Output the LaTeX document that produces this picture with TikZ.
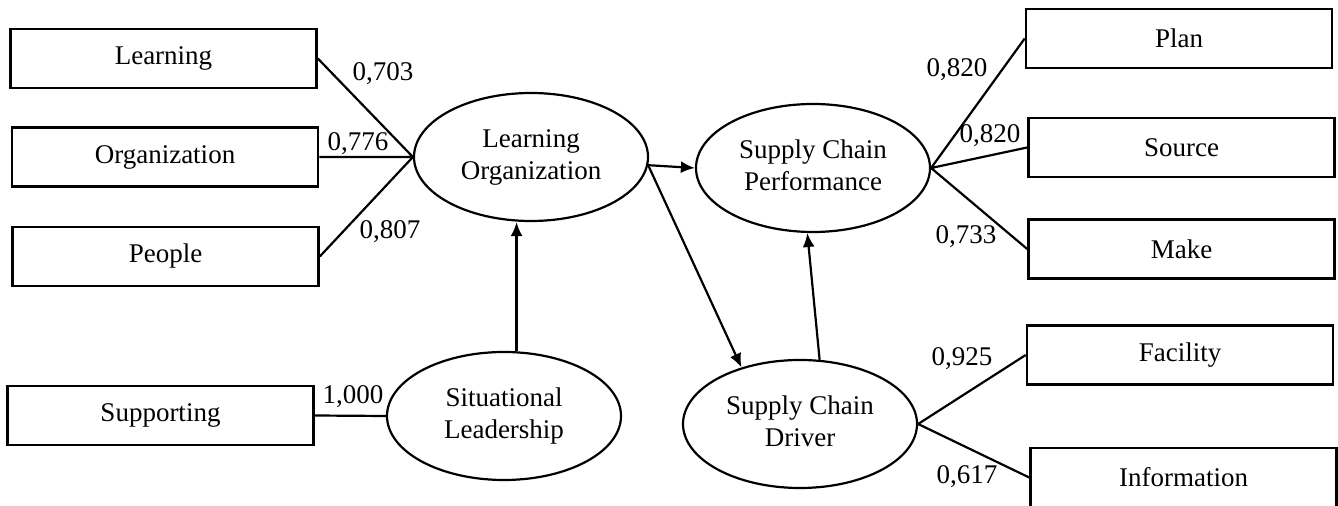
\documentclass[tikz,border=0pt]{standalone}
\usepackage{fontspec}
\setmainfont{Liberation Serif}
\usetikzlibrary{arrows.meta, shapes.geometric, positioning}
\newcommand{\twoline}[2]{\raisebox{2.5pt}{\begin{tabular}{@{}c@{}}#1\\#2\end{tabular}}}

\begin{document}
\begin{tikzpicture}[x=0.5pt, y=-0.5pt,
                        font=\fontsize{13.5}{16}\selectfont,
                        ind/.style={draw, line width=1.3pt, minimum width=153pt, minimum height=29.5pt, inner sep=0pt},
                        lat/.style={draw, ellipse, line width=1.1pt, minimum width=117pt, minimum height=64pt, inner sep=0pt},
                        load/.style={inner sep=0pt},
                        lnk/.style={line width=1.1pt},
                        arr/.style={line width=1.1pt, -{Latex[length=7pt, width=6pt]}}]
                        \useasboundingbox (0, 0) rectangle (1338, 506);

                        \node[ind] (learn) at (163.5, 58.5) {Learning};
                        \node[ind] (org) at (165, 157) {Organization};
                        \node[ind] (ppl) at (165.5, 256.5) {People};
                        \node[ind] (supp) at (160.5, 415.5) {Supporting};
                        \node[ind] (plan) at (1179, 38.5) {Plan};
                        \node[ind] (src) at (1181.5, 147.5) {Source};
                        \node[ind] (make) at (1181.5, 249) {Make};
                        \node[ind] (fac) at (1180, 355) {Facility};
                        \node[ind] (info) at (1183.5, 477.5) {Information};

                        \node[lat] (lo) at (531, 157) {\twoline{Learning}{Organization}};
                        \node[lat] (sl) at (504, 416) {\twoline{Situational}{Leadership}};
                        \node[lat] (scp) at (813, 168) {\twoline{Supply Chain}{Performance}};
                        \node[lat] (scd) at (800, 424) {\twoline{Supply Chain}{Driver}};

                        \node[load] (w1) at (383, 74) {0,703};
                        \node[load] (w2) at (358, 144) {0,776};
                        \node[load] (w3) at (390, 232) {0,807};
                        \node[load] (w4) at (353, 397) {1,000};
                        \node[load] (w5) at (957, 70) {0,820};
                        \node[load] (w6) at (990, 136) {0,820};
                        \node[load] (w7) at (966, 237) {0,733};
                        \node[load] (w8) at (962, 359) {0,925};
                        \node[load] (w9) at (967, 477) {0,617};

                        \draw[lnk]
                        (learn.east) -- (lo.west)
                        (org.east) -- (lo.west)
                        (ppl.east) -- (lo.west)
                        (supp.east) -- (sl.west)
                        (scp.east) -- (plan.west)
                        (scp.east) -- (src.west)
                        (scp.east) -- (make.west)
                        (scd.east) -- (fac.west)
                        (scd.east) -- (info.west);

                        \draw[arr] (lo.-4) -- (scp.west);
                        \draw[arr] (lo.-4) -- (scd.136);
                        \draw[arr] (scd.73) -- (scp.-95);
                        \draw[arr] (sl.79) -- (sl.79 |- lo.south);
                    \end{tikzpicture}
\end{document}
